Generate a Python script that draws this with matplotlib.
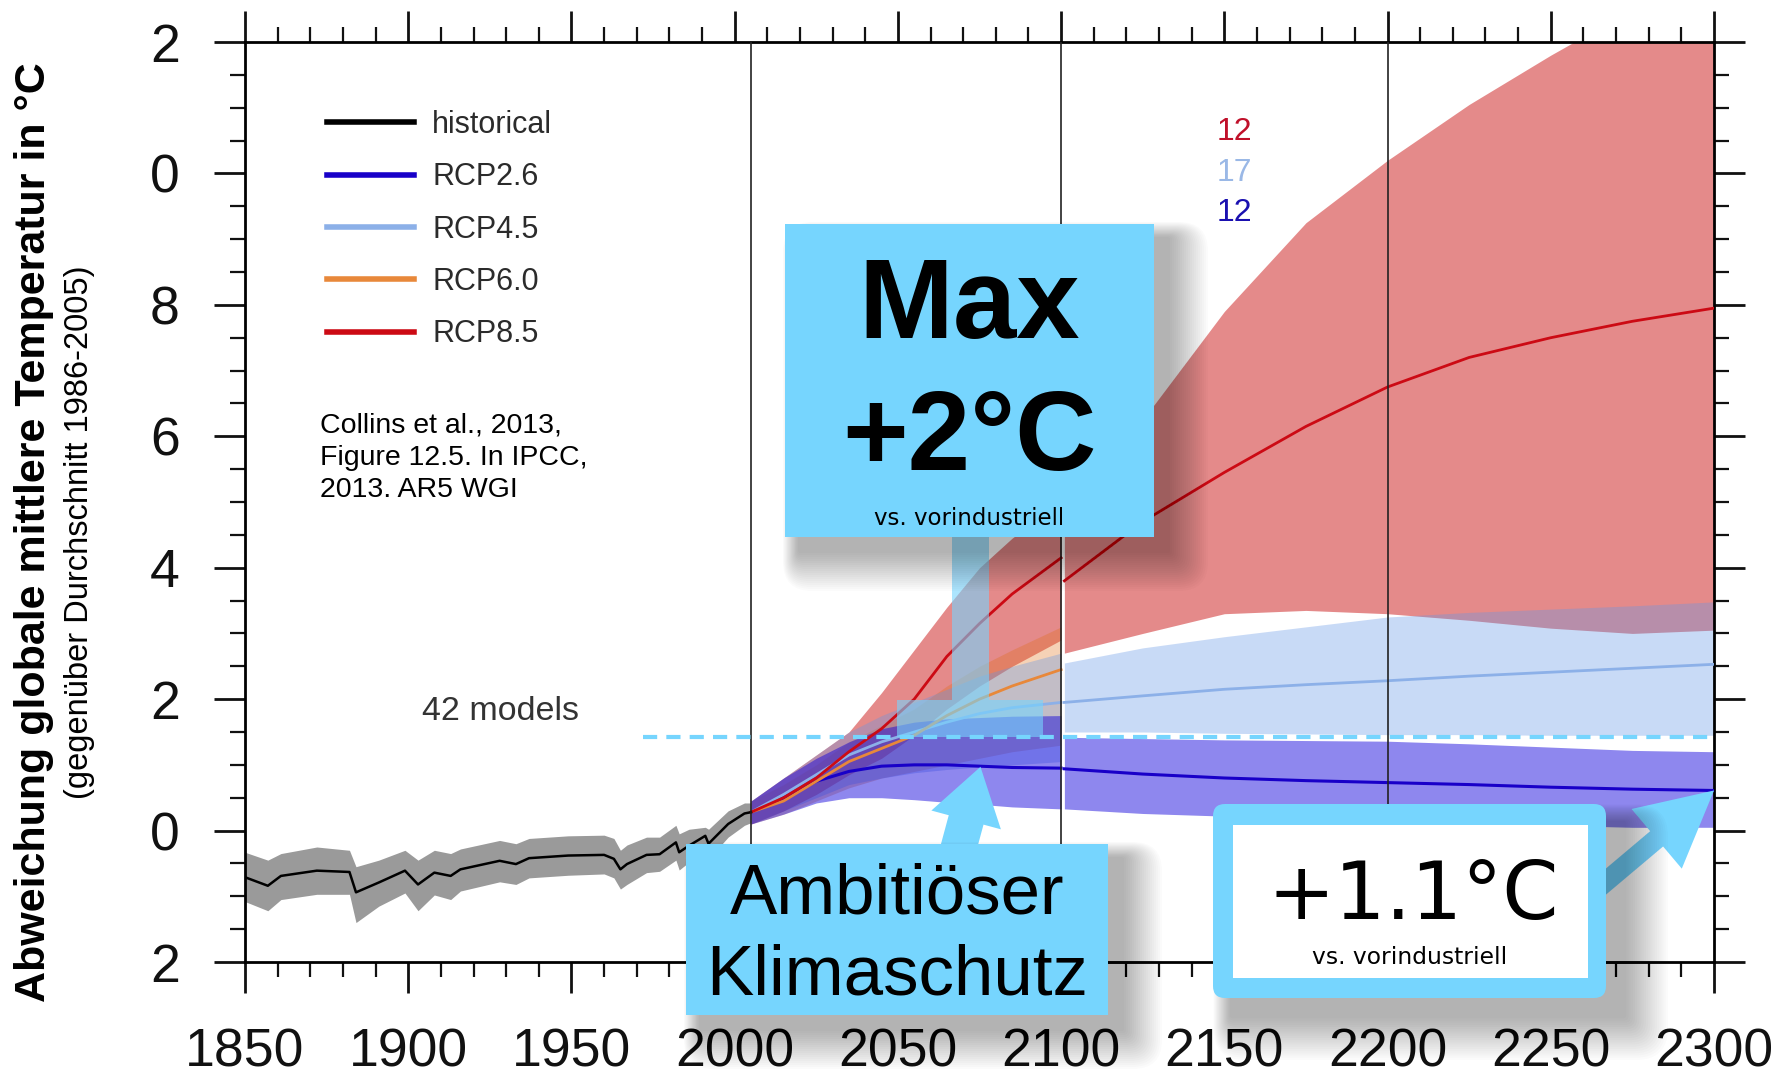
import numpy as np
import matplotlib
matplotlib.use('Agg')
import matplotlib.pyplot as plt
import matplotlib.patches as mpatches
from matplotlib.lines import Line2D

# figure size in pixels (dpi 100)
W, H = 1786, 1078
plt.rcParams['font.family'] = ['Liberation Sans', 'DejaVu Sans']

# ---------------- data ----------------
hist_years = [1850, 1857, 1861, 1872, 1882, 1884, 1891, 1899, 1903, 1908, 1913, 1916,
              1928, 1933, 1937, 1949, 1960, 1963, 1965, 1967, 1973, 1977, 1982, 1983,
              1986, 1991, 1992, 1998, 2003, 2005]
hist_mean = [-0.71, -0.84, -0.69, -0.61, -0.63, -0.94, -0.79, -0.61, -0.82, -0.64, -0.69, -0.59,
             -0.46, -0.51, -0.42, -0.38, -0.37, -0.43, -0.59, -0.51, -0.37, -0.36, -0.18, -0.33,
             -0.23, -0.08, -0.20, 0.10, 0.26, 0.28]
hist_hi = [-0.33, -0.45, -0.35, -0.25, -0.30, -0.55, -0.45, -0.30, -0.45, -0.30, -0.35, -0.28,
           -0.15, -0.20, -0.12, -0.08, -0.07, -0.12, -0.30, -0.22, -0.10, -0.10, 0.08, -0.05,
           0.02, 0.05, 0.02, 0.30, 0.42, 0.42]
hist_lo = [-1.08, -1.22, -1.05, -0.97, -0.97, -1.40, -1.15, -0.95, -1.22, -0.98, -1.05, -0.92,
           -0.78, -0.82, -0.72, -0.68, -0.66, -0.72, -0.89, -0.82, -0.64, -0.62, -0.45, -0.60,
           -0.48, -0.32, -0.43, -0.10, 0.08, 0.12]

# 2006-2100 (all RCPs)
proj_years = [2005, 2015, 2025, 2035, 2045, 2055, 2065, 2075, 2085, 2100]
rcp85_mean = [0.28, 0.50, 0.80, 1.20, 1.55, 2.00, 2.65, 3.15, 3.60, 4.15]
rcp85_hi = [0.45, 0.80, 1.15, 1.50, 2.10, 2.75, 3.40, 4.00, 4.45, 5.00]
rcp85_lo = [0.10, 0.30, 0.55, 0.85, 1.10, 1.45, 1.85, 2.20, 2.50, 2.90]
rcp60_mean = [0.28, 0.45, 0.75, 1.05, 1.25, 1.45, 1.75, 2.00, 2.20, 2.45]
rcp60_hi = [0.45, 0.70, 1.00, 1.35, 1.60, 1.85, 2.20, 2.50, 2.75, 3.10]
rcp60_lo = [0.10, 0.25, 0.45, 0.65, 0.80, 0.90, 1.00, 1.10, 1.20, 1.30]
rcp45_mean = [0.28, 0.55, 0.85, 1.15, 1.35, 1.50, 1.65, 1.78, 1.87, 1.95]
rcp45_hi = [0.45, 0.80, 1.15, 1.50, 1.75, 1.95, 2.15, 2.35, 2.50, 2.70]
rcp45_lo = [0.10, 0.30, 0.50, 0.70, 0.80, 0.88, 0.93, 0.97, 1.00, 1.05]
rcp26_mean = [0.28, 0.50, 0.75, 0.90, 0.98, 1.00, 1.00, 0.98, 0.96, 0.95]
rcp26_hi = [0.45, 0.80, 1.10, 1.35, 1.55, 1.65, 1.70, 1.72, 1.74, 1.75]
rcp26_lo = [0.10, 0.25, 0.42, 0.50, 0.50, 0.47, 0.43, 0.40, 0.36, 0.33]

# 2101-2300 extension (RCP8.5, RCP4.5, RCP2.6)
ext_years = [2101, 2125, 2150, 2175, 2200, 2225, 2250, 2275, 2300]
rcp85_mean_ext = [3.80, 4.70, 5.45, 6.15, 6.75, 7.20, 7.50, 7.75, 7.95]
rcp85_hi_ext = [4.80, 6.25, 7.90, 9.25, 10.20, 11.05, 11.80, 12.50, 13.00]
rcp85_lo_ext = [2.70, 3.00, 3.30, 3.35, 3.30, 3.20, 3.08, 3.00, 3.05]
rcp45_mean_ext = [1.95, 2.05, 2.15, 2.22, 2.28, 2.35, 2.41, 2.47, 2.53]
rcp45_hi_ext = [2.55, 2.78, 2.95, 3.10, 3.25, 3.32, 3.37, 3.42, 3.48]
rcp45_lo_ext = [1.50, 1.50, 1.48, 1.47, 1.46, 1.46, 1.45, 1.45, 1.45]
rcp26_mean_ext = [0.94, 0.86, 0.80, 0.76, 0.73, 0.70, 0.66, 0.63, 0.61]
rcp26_hi_ext = [1.42, 1.40, 1.38, 1.37, 1.36, 1.32, 1.27, 1.22, 1.20]
rcp26_lo_ext = [0.33, 0.26, 0.22, 0.18, 0.15, 0.12, 0.08, 0.05, 0.05]

legend_labels = ['historical', 'RCP2.6', 'RCP4.5', 'RCP6.0', 'RCP8.5']
model_counts = ['12', '17', '12']  # RCP8.5, RCP4.5, RCP2.6 after 2100
two_deg_rel = 1.43                 # +2 degC vs pre-industrial, relative to 1986-2005
ytick_vals = [-2, 0, 2, 4, 6, 8, 10, 12]
ytick_labels = ['2', '0', '2', '4', '6', '8', '0', '2']
period_lines = [2005, 2100, 2200]

# colours
c_box = '#76d5fe'
col85, col60, col45, col26 = '#cc0a14', '#e8883a', '#8cb0e8', '#1800c8'

fig = plt.figure(figsize=(W / 100, H / 100), dpi=100)
ax = fig.add_axes([245 / W, 1 - 962 / H, 1469 / W, 920 / H])
ax.set_xlim(1850, 2300)
ax.set_ylim(-2, 12)

# historical
ax.fill_between(hist_years, hist_lo, hist_hi, color='#9a9a9a', lw=0, zorder=2)
ax.plot(hist_years, hist_mean, color='black', lw=1.8, zorder=6)

# bands, 2006-2100 then 2101-2300
ax.fill_between(proj_years, rcp85_lo, rcp85_hi, color='#c60000', alpha=0.46, lw=0, zorder=2)
ax.fill_between(ext_years, rcp85_lo_ext, rcp85_hi_ext, color='#c60000', alpha=0.46, lw=0, zorder=2)
ax.fill_between(proj_years, rcp60_lo, rcp60_hi, color='#e06a10', alpha=0.30, lw=0, zorder=2)
ax.fill_between(proj_years, rcp45_lo, rcp45_hi, color='#6496e6', alpha=0.35, lw=0, zorder=2)
ax.fill_between(ext_years, rcp45_lo_ext, rcp45_hi_ext, color='#6496e6', alpha=0.35, lw=0, zorder=2)
ax.fill_between(proj_years, rcp26_lo, rcp26_hi, color='#0f00db', alpha=0.47, lw=0, zorder=2)
ax.fill_between(ext_years, rcp26_lo_ext, rcp26_hi_ext, color='#0f00db', alpha=0.47, lw=0, zorder=2)

# ensemble means
ax.plot(proj_years, rcp26_mean, color=col26, lw=2.2, zorder=5)
ax.plot(ext_years, rcp26_mean_ext, color=col26, lw=2.2, zorder=5)
ax.plot(proj_years, rcp45_mean, color=col45, lw=2, zorder=5)
ax.plot(ext_years, rcp45_mean_ext, color=col45, lw=2, zorder=5)
ax.plot(proj_years, rcp60_mean, color=col60, lw=2, zorder=5)
ax.plot(proj_years, rcp85_mean, color=col85, lw=2, zorder=5)
ax.plot(ext_years, rcp85_mean_ext, color=col85, lw=2, zorder=5)

for yr in period_lines:
    ax.axvline(yr, color='#222222', lw=1.2, zorder=7)

# 2 degree line
ax.plot([1972, 2300], [two_deg_rel, two_deg_rel], color=c_box, lw=3, dashes=(3.4, 2.2), zorder=8)

# legend
handles = [Line2D([], [], color=c, lw=4) for c in ['black', col26, col45, col60, col85]]
ax.legend(handles, legend_labels, loc='upper left', bbox_to_anchor=(0.0561, 0.926),
          frameon=False, fontsize=22, handlelength=2.83, handletextpad=0.6,
          labelspacing=0.73, borderpad=0, borderaxespad=0, labelcolor='#2b2b2b')

ax.text(1873, 6.36, 'Collins et al., 2013,\nFigure 12.5. In IPCC,\n2013. AR5 WGI',
        fontsize=20.5, va='top', ha='left', linespacing=1.3, color='black')
ax.text(1928.4, 1.81, '42 models', fontsize=24.5, ha='center', va='center', color='#333333')
for txt, yv, c in zip(model_counts, [10.63, 10.01, 9.40], ['#c0102a', '#9ab8e6', '#1a10b0']):
    ax.text(2153, yv, txt, fontsize=23, ha='center', va='center', color=c)

# axes styling
ax.set_xticks(np.arange(1850, 2301, 50))
ax.set_xticks(np.arange(1850, 2301, 10), minor=True)
ax.set_yticks(ytick_vals)
ax.set_yticklabels(ytick_labels)
ax.set_yticks(np.arange(-2, 12.01, 0.5), minor=True)
ax.tick_params(which='major', direction='out', length=22, width=2, top=True, right=True,
               labelsize=38.5, colors='#111111')
ax.tick_params(axis='x', which='major', pad=25)
ax.tick_params(axis='y', which='major', pad=25)
ax.tick_params(which='minor', direction='out', length=11, width=1.6, top=True, right=True,
               colors='#111111')
for s in ax.spines.values():
    s.set_linewidth(2)

fig.text(34 / W, 0.506, 'Abweichung globale mittlere Temperatur in °C', rotation=90,
         ha='center', va='center', fontsize=31, fontweight='bold')
fig.text(80 / W, 0.506, '(gegenüber Durchschnitt 1986-2005)', rotation=90,
         ha='center', va='center', fontsize=23.5)

# ---------------- overlay in pixel coordinates ----------------
ov = fig.add_axes([0, 0, 1, 1], zorder=10)
ov.set_xlim(0, W)
ov.set_ylim(H, 0)
ov.axis('off')


def to_px(x, y):
    px, py = ax.transData.transform((x, y))
    return px, H - py


def soft_shadow(x0, y0, w, h, off=14, blur=40, n=20, a=0.014):
    # stacked faint rectangles give a blurred drop shadow
    for i in range(n):
        g = blur * (1 - i / n)
        ov.add_patch(mpatches.FancyBboxPatch((x0 + off - g * 0.4, y0 + off - g * 0.4),
                                             w + g * 1.4, h + g * 1.4,
                                             boxstyle='round,pad=0,rounding_size=%.1f' % (g * 0.7 + 1),
                                             fc='black', ec='none', alpha=a))


# T marker under the Max box
ov.add_patch(mpatches.Rectangle((952, 535), 37, 165, fc=c_box, ec='none', alpha=0.6))
ov.add_patch(mpatches.Rectangle((897, 700), 146, 37, fc=c_box, ec='none', alpha=0.6))

# Max +2 box
soft_shadow(785, 224, 369, 313)
ov.add_patch(mpatches.Rectangle((785, 224), 369, 313, fc=c_box, ec='none'))
ov.text(969.5, 338, 'Max', fontsize=82, fontweight='bold', ha='center', va='baseline')
ov.text(969.5, 470, '+2°C', fontsize=81, fontweight='bold', ha='center', va='baseline')
ov.text(969.5, 525, 'vs. vorindustriell', fontsize=16.5, ha='center', va='baseline',
        family='DejaVu Sans')

# Ambitioeser Klimaschutz box + arrow
tx, ty = to_px(2075.3, rcp26_mean[7] - 0.01)
ov.add_patch(mpatches.FancyArrow(958, 850, tx - 958, ty - 850, width=36, head_width=72,
                                 head_length=55, length_includes_head=True, fc=c_box, ec='none'))
soft_shadow(686, 844, 422, 171)
ov.add_patch(mpatches.Rectangle((686, 844), 422, 171, fc=c_box, ec='none'))
ov.text(897, 913.6, 'Ambitiöser', fontsize=51, ha='center', va='baseline')
ov.text(897, 994.4, 'Klimaschutz', fontsize=51, ha='center', va='baseline')

# +1.1 box + arrow
tx, ty = to_px(2300, rcp26_mean_ext[-1])
ov.add_patch(mpatches.FancyArrow(1590, 895, tx - 1590, ty - 895, width=20, head_width=78,
                                 head_length=75, length_includes_head=True, fc=c_box, ec='none'))
soft_shadow(1213, 804, 393, 194, off=18, blur=44)
r = 12
ov.add_patch(mpatches.FancyBboxPatch((1213 + r, 804 + r), 393 - 2 * r, 194 - 2 * r,
                                     boxstyle='round,pad=%d' % r, fc=c_box, ec='none'))
ov.add_patch(mpatches.Rectangle((1233, 825), 355, 153, fc='white', ec='none'))
ov.text(1413, 918.7, '+1.1°C', fontsize=58, ha='center', va='baseline', family='DejaVu Sans')
ov.text(1410, 964, 'vs. vorindustriell', fontsize=16.8, ha='center', va='baseline',
        family='DejaVu Sans')

fig.savefig('out.png', dpi=100)
